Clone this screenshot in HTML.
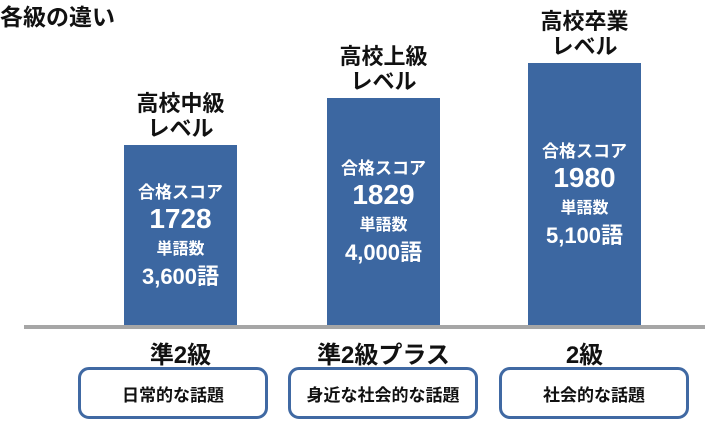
<!DOCTYPE html>
<html><head><meta charset="utf-8"><style>
body{margin:0;width:705px;height:424px;background:#fff;overflow:hidden;position:relative;font-family:"Liberation Sans","Noto Sans CJK JP",sans-serif;font-weight:bold;}
.abs{position:absolute}
.bar{position:absolute;background:#3c67a1;display:flex;flex-direction:column;align-items:center;justify-content:center;color:#fff;text-align:center}
.lvl{position:absolute;text-align:center;font-size:22px;line-height:25px;color:#111;width:160px}
.cat{position:absolute;text-align:center;font-size:24px;width:220px;top:335px;color:#111}
.box{position:absolute;top:367px;width:184px;height:46px;border:3px solid #4069a3;border-radius:11px;display:flex;align-items:center;justify-content:center;font-size:17px;color:#111;background:#fff}
</style></head><body>
<div class="abs" style="left:0;top:-2px;font-size:23px;color:#111">各級の違い</div>
<div class="abs" style="left:24px;top:325px;width:681px;height:4px;background:#a6a6a6"></div>
<div id="chart"></div>
<script>
const grades=["準2級","準2級プラス","2級"];
const levels=[["高校中級","レベル"],["高校上級","レベル"],["高校卒業","レベル"]];
const scores=[1728,1829,1980];
const words=["3,600語","4,000語","5,100語"];
const topics=["日常的な話題","身近な社会的な話題","社会的な話題"];
const baseY=325, barW=113, centers=[180.5,383.5,584.5];
function yScale(v){
  const d=[1700,1728,1829,1980,2000], r=[167,180,227,262,266];
  for(let i=0;i<d.length-1;i++){if(v<=d[i+1]||i==d.length-2){return baseY-(r[i]+(v-d[i])*(r[i+1]-r[i])/(d[i+1]-d[i]));}}
}
const c=document.getElementById('chart');
scores.forEach((s,i)=>{
  const top=yScale(s), cx=centers[i];
  const b=document.createElement('div');b.className='bar';
  
  
  b.style.left=(cx-barW/2)+'px';b.style.top=top+'px';b.style.width=barW+'px';b.style.height=(baseY-top)+'px';
  b.innerHTML='<div style="font-size:17px;line-height:22px">合格スコア</div><div style="font-size:28px;line-height:30px">'+s+'</div><div style="font-size:16px;line-height:28px;margin-top:2px">単語数</div><div style="font-size:22px;line-height:25px">'+words[i]+'</div>';
  c.appendChild(b);
  const l=document.createElement('div');l.className='lvl';
  
  
  l.style.left=(cx-80)+'px';l.style.top=(top-54)+'px';
  l.innerHTML=levels[i][0]+'<br>'+levels[i][1];
  c.appendChild(l);
  const g=document.createElement('div');g.className='cat';
  
  
  g.style.left=(cx-110)+'px';g.textContent=grades[i];
  c.appendChild(g);
  const x=document.createElement('div');x.className='box';
  
  
  x.style.left=[78,288,499][i]+'px';x.textContent=topics[i];
  c.appendChild(x);
});
</script>
</body></html>
